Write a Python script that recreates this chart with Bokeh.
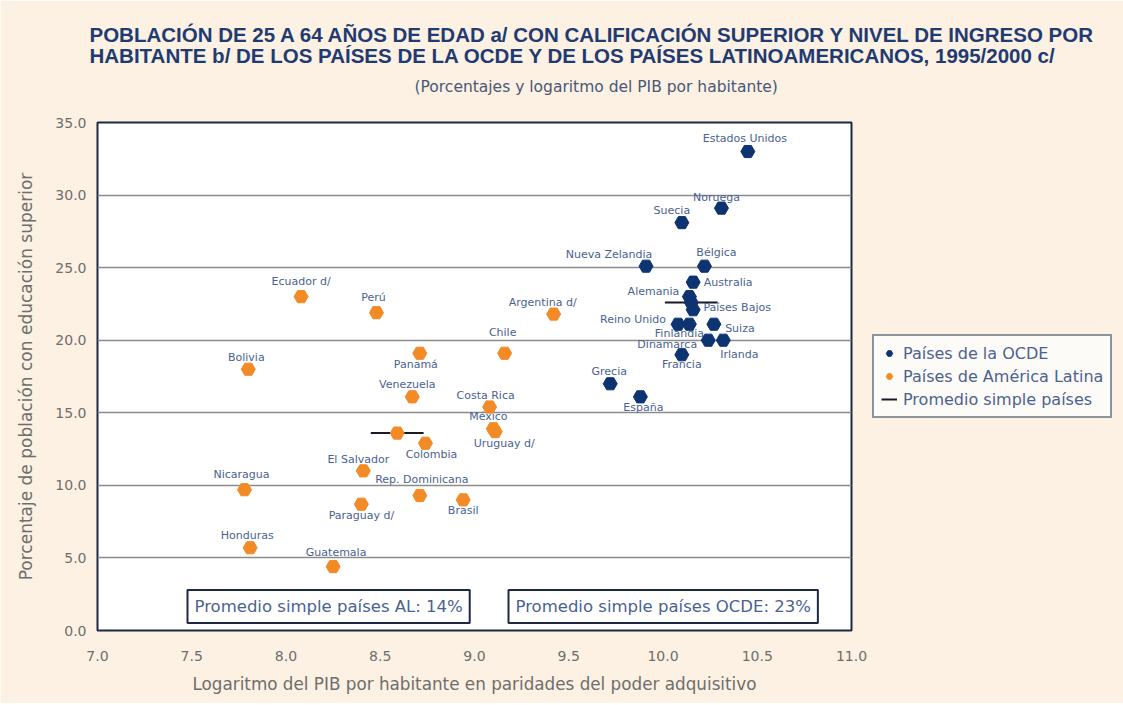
from bokeh.plotting import figure
from bokeh.models import (ColumnDataSource, Label, Legend, LegendItem, FixedTicker,
                          NumeralTickFormatter, Range1d, Title)
from bokeh.embed import file_html
from bokeh.resources import INLINE
from bokeh.core.properties import value

# ---------------- data ----------------
ocde_names = ["Estados Unidos", "Noruega", "Suecia", "Nueva Zelandia", "Bélgica", "Australia",
              "Alemania", "Países Bajos", "Reino Unido", "Finlandia", "Suiza", "Dinamarca",
              "Irlanda", "Francia", "Grecia", "España"]
ocde_x = [10.45, 10.31, 10.10, 9.91, 10.22, 10.16, 10.14, 10.16, 10.08, 10.14, 10.27, 10.24,
          10.32, 10.10, 9.72, 9.88]
ocde_y = [33.0, 29.1, 28.1, 25.1, 25.1, 24.0, 23.0, 22.1, 21.1, 21.1, 21.1, 20.0,
          20.0, 19.0, 17.0, 16.1]

la_names = ["Ecuador d/", "Perú", "Argentina d/", "Chile", "Panamá", "Bolivia", "Venezuela",
            "Costa Rica", "México", "Uruguay d/", "Colombia", "El Salvador", "Nicaragua",
            "Rep. Dominicana", "Brasil", "Paraguay d/", "Honduras", "Guatemala"]
la_x = [8.08, 8.48, 9.42, 9.16, 8.71, 7.80, 8.67, 9.08, 9.10, 9.11, 8.74, 8.41, 7.78,
        8.71, 8.94, 8.40, 7.81, 8.25]
la_y = [23.0, 21.9, 21.8, 19.1, 19.1, 18.0, 16.1, 15.4, 13.9, 13.7, 12.9, 11.0, 9.7,
        9.3, 9.0, 8.7, 5.7, 4.4]

avg_groups = ["OCDE", "AL"]
avg_x = [10.15, 8.59]
avg_y = [22.6, 13.6]

x_ticks = [7.0, 7.5, 8.0, 8.5, 9.0, 9.5, 10.0, 10.5, 11.0]
y_ticks = [0.0, 5.0, 10.0, 15.0, 20.0, 25.0, 30.0, 35.0]

title_1 = "POBLACIÓN DE 25 A 64 AÑOS DE EDAD a/ CON CALIFICACIÓN SUPERIOR Y NIVEL DE INGRESO POR"
title_2 = "HABITANTE b/ DE LOS PAÍSES DE LA OCDE Y DE LOS PAÍSES LATINOAMERICANOS, 1995/2000 c/"
subtitle = "(Porcentajes y logaritmo del PIB por habitante)"
x_label = "Logaritmo del PIB por habitante en paridades del poder adquisitivo"
y_label = "Porcentaje de población con educación superior"
box_al = "Promedio simple países AL: 14%"
box_ocde = "Promedio simple países OCDE: 23%"
legend_labels = ["Países de la OCDE", "Países de América Latina", "Promedio simple países"]

# ---------------- styling / label offsets (px) ----------------
label_offsets = {
    "Estados Unidos": (-3, -13), "Noruega": (-5, -11), "Suecia": (-10, -12),
    "Nueva Zelandia": (-37, -12), "Bélgica": (12, -14), "Australia": (35, 0),
    "Alemania": (-36, -5), "Países Bajos": (44, -2), "Reino Unido": (-45, -5),
    "Finlandia": (-10, 9), "Suiza": (26, 4), "Dinamarca": (-41, 4), "Irlanda": (16, 14),
    "Francia": (0, 10), "Grecia": (-1, -12), "España": (3, 11),
    "Ecuador d/": (0, -15), "Perú": (-3, -15), "Argentina d/": (-11, -12), "Chile": (-2, -21),
    "Panamá": (-4, 11), "Bolivia": (-2, -12), "Venezuela": (-5, -12), "Costa Rica": (-4, -11),
    "México": (-5, -12), "Uruguay d/": (9, 12), "Colombia": (6, 11), "El Salvador": (-5, -11),
    "Nicaragua": (-3, -15), "Rep. Dominicana": (2, -16), "Brasil": (0, 11),
    "Paraguay d/": (0, 11), "Honduras": (-3, -12), "Guatemala": (3, -14),
}

CREAM = "#fcf1e2"
NAVY = "#0d3371"
ORANGE = "#f28a26"
TITLE_C = "#1f3b72"
LABEL_C = "#4b6290"
GREY = "#6e6e6e"
AVG_HALF = 0.14

p = figure(frame_width=754, frame_height=508, output_backend="svg", toolbar_location=None,
           x_range=Range1d(7, 11), y_range=Range1d(0, 35),
           min_border_left=97, min_border_right=270, min_border_top=122, min_border_bottom=73)
p.background_fill_color = "#ffffff"
p.border_fill_color = CREAM
p.outline_line_color = "#1b2944"
p.outline_line_width = 2

p.xgrid.visible = False
p.ygrid.ticker = FixedTicker(ticks=y_ticks)
p.ygrid.grid_line_color = "#8c8c8c"
p.ygrid.grid_line_width = 1.5

for ax in (p.xaxis[0], p.yaxis[0]):
    ax.axis_line_color = None
    ax.major_tick_line_color = None
    ax.minor_tick_line_color = None
    ax.major_tick_out = 0
    ax.major_tick_in = 0
    ax.minor_tick_out = 0
    ax.major_label_text_font = "DejaVu Sans"
    ax.major_label_text_font_size = "14px"
    ax.major_label_text_color = GREY
    ax.axis_label_text_font = "DejaVu Sans"
    ax.axis_label_text_font_style = "normal"
    ax.axis_label_text_color = GREY
    ax.formatter = NumeralTickFormatter(format="0.0")

p.xaxis.axis_label_text_font_size = "16.8px"
p.yaxis.axis_label_text_font_size = "17px"
p.xaxis.ticker = FixedTicker(ticks=x_ticks)
p.yaxis.ticker = FixedTicker(ticks=y_ticks)
p.xaxis.major_label_standoff = 20
p.xaxis.axis_label_standoff = 10
p.yaxis.major_label_standoff = 11
p.yaxis.axis_label_standoff = 16
p.xaxis.axis_label = x_label
p.yaxis.axis_label = y_label

# averages (line + point)
avg_src = ColumnDataSource(dict(g=avg_groups, x=avg_x, y=avg_y,
                                x0=[v - AVG_HALF for v in avg_x], x1=[v + AVG_HALF for v in avg_x],
                                c=[NAVY, ORANGE]))
r_avg = p.segment(x0="x0", y0="y", x1="x1", y1="y", source=avg_src,
                  line_color="#1a1a26", line_width=2)

ocde_src = ColumnDataSource(dict(x=ocde_x, y=ocde_y, name=ocde_names,
                                 dx=[label_offsets[n][0] for n in ocde_names],
                                 dy=[label_offsets[n][1] for n in ocde_names]))
la_src = ColumnDataSource(dict(x=la_x, y=la_y, name=la_names,
                               dx=[label_offsets[n][0] for n in la_names],
                               dy=[label_offsets[n][1] for n in la_names]))

for src in (ocde_src, la_src):
    p.text(x="x", y="y", text="name", x_offset="dx", y_offset="dy", source=src,
           text_align="center", text_baseline="middle", text_font=value("DejaVu Sans"),
           text_font_size="11px", text_color=LABEL_C)

r_avg_pts = p.scatter(x="x", y="y", source=avg_src, marker="hex", size=14,
                      fill_color="c", line_color="c")
r_ocde = p.scatter(x="x", y="y", source=ocde_src, marker="hex", size=14,
                   fill_color=NAVY, line_color=NAVY)
r_la = p.scatter(x="x", y="y", source=la_src, marker="hex", size=14,
                 fill_color=ORANGE, line_color=ORANGE)

legend = Legend(items=[LegendItem(label=legend_labels[0], renderers=[r_ocde]),
                       LegendItem(label=legend_labels[1], renderers=[r_la]),
                       LegendItem(label=legend_labels[2], renderers=[r_avg])],
                location=(21, 212))
legend.label_text_font = "DejaVu Sans"
legend.label_text_font_size = "16px"
legend.label_text_color = LABEL_C
legend.glyph_width = 16
legend.glyph_height = 20
legend.label_height = 20
legend.label_standoff = 6
legend.spacing = 3
legend.padding = 7
legend.margin = 0
legend.border_line_color = "#1b2944"
legend.border_line_width = 2
legend.background_fill_color = "#fdfbf8"
legend.background_fill_alpha = 1
p.add_layout(legend, "right")

# annotation boxes
for txt, xs in ((box_al, 90), (box_ocde, 411)):
    p.add_layout(Label(x=xs, y=24, x_units="screen", y_units="screen", text=txt,
                       text_font="DejaVu Sans", text_font_size="16.5px", text_color=LABEL_C,
                       text_align="left", text_baseline="middle",
                       padding=7, border_line_color="#1b2944", border_line_width=2,
                       background_fill_color="#ffffff"))

# titles (stacked outward from the frame): spacer, subtitle, two-line title
p.add_layout(Title(text=" ", align="left", standoff=14, text_font_size="10px"), "above")
p.add_layout(Title(text=subtitle, align="left", offset=317, standoff=0,
                   text_font="DejaVu Sans", text_font_size="15.5px", text_font_style="normal",
                   text_color="#4a5878"), "above")
p.add_layout(Title(text=title_1 + "\n" + title_2, align="left", offset=-8, standoff=16,
                   text_font="Liberation Sans", text_font_size="20.5px", text_font_style="bold",
                   text_line_height=0.93, text_color=TITLE_C), "above")

open("out.html", "w").write(file_html(p, INLINE))
